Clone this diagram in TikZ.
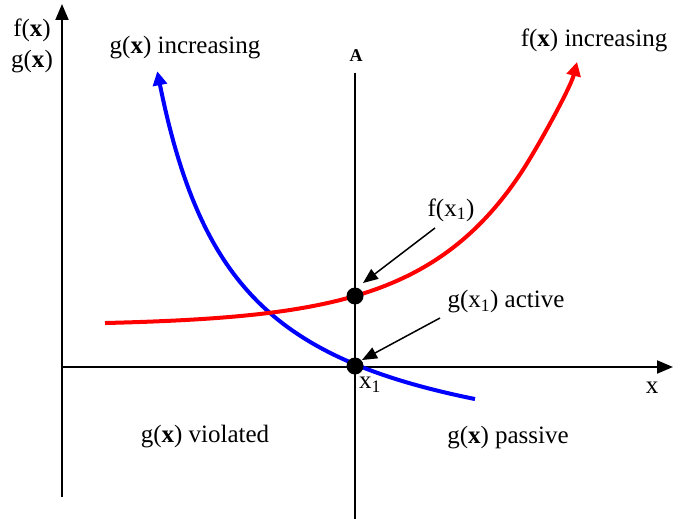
\documentclass[tikz,border=0pt]{standalone}
\usepackage{fontspec}
\setmainfont{Liberation Serif}
\usetikzlibrary{arrows.meta}
\begin{document}
\begin{tikzpicture}[x=1pt,y=-1pt,
  lbl/.style={font=\fontsize{25}{28}\selectfont, inner sep=0pt},
  axis/.style={line width=2pt, -{Triangle[length=16pt,width=13pt]}},
  curve/.style={line width=4pt, -{Triangle[length=14pt,width=14pt]}},
  ann/.style={line width=1.5pt, -{Triangle[length=15pt,width=12pt]}},
  dot/.style={circle, fill=black, minimum size=17pt, inner sep=0pt}]
\useasboundingbox (0,0) rectangle (680,519);
% axes
\coordinate (o) at (62,367);
\coordinate (ybot) at (62,497);
\coordinate (ytop) at (62,4);
\coordinate (xend) at (673,367);
\draw[axis] (ybot) -- (ytop);
\draw[axis] (o) -- (xend);
\coordinate (atop) at (355,73);
\coordinate (abot) at (355,519);
\draw[line width=2pt] (atop) -- (abot);
\node[font=\fontsize{18}{20}\selectfont\bfseries, inner sep=0pt] (A) at (356,56) {A};
% curves
\draw[curve, blue] plot[domain=475:157.3, samples=120] (\x, {478.7 - 314.66/((\x-80.07)/100)});
\coordinate (r1) at (535,152.2);
\coordinate (r2) at (570.5,88);
\coordinate (rend) at (577,62);
\draw[curve, red] plot[domain=105:520, samples=100] (\x, {325.5 - 0.877*exp(0.0099*\x)})
  .. controls (r1) and (r2) .. (rend);
% points
\node[dot] (p1) at (355,296) {};
\node[dot] (p0) at (355,366) {};
% labels
\node[lbl] (fx) at (32,30) {f(\textbf{x})};
\node[lbl] (gx) at (32,62) {g(\textbf{x})};
\node[lbl] (ginc) at (185,48) {g(\textbf{x}) increasing};
\node[lbl] (finc) at (594,40) {f(\textbf{x}) increasing};
\node[lbl] (fx1) at (451,210) {f(x\textsubscript{1})};
\node[lbl] (gact) at (506,302) {g(x\textsubscript{1}) active};
\node[lbl] (x1) at (370,385) {x\textsubscript{1}};
\node[lbl] (xl) at (652,388) {x};
\node[lbl] (viol) at (205,437) {g(\textbf{x}) violated};
\node[lbl] (pass) at (508,438) {g(\textbf{x}) passive};
% annotation arrows
\coordinate (s1) at (435,228);
\coordinate (s0) at (440,318);
\draw[ann] (s1) -- (363,283);
\draw[ann] (s0) -- (362,360);
\end{tikzpicture}
\end{document}
